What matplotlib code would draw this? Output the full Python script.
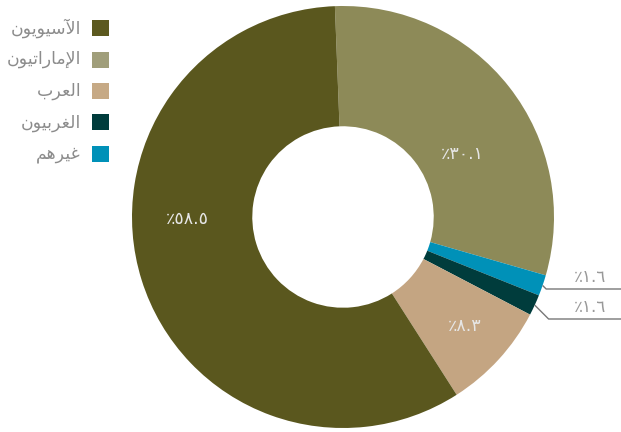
import matplotlib
matplotlib.use("Agg")
import numpy as np
import matplotlib.pyplot as plt
from matplotlib.patches import Rectangle

# Population share by group (percent)
categories = ["الآسيويون", "الإماراتيون", "العرب", "الغربيون", "غيرهم"]
shares = [58.5, 30.1, 8.3, 1.6, 1.6]
colors = ["#5a571e", "#8d8a58", "#c4a582", "#003c3c", "#0091b8"]
legend_colors = ["#5c591f", "#a09e7a", "#c6a985", "#003c3c", "#0091b8"]
# order of the wedges, clockwise from the top
pie_order = [1, 4, 3, 2, 0]

W, H = 621, 432
CX, CY, R = 343, 217, 211  # pixel centre and outer radius of the donut

# --- minimal Arabic shaping (matplotlib has no bidi / shaping) ---
FORMS = {  # isolated, final, initial, medial
    "ا": ("\ufe8d", "\ufe8e", None, None),
    "آ": ("\ufe81", "\ufe82", None, None),
    "إ": ("\ufe87", "\ufe88", None, None),
    "و": ("\ufeed", "\ufeee", None, None),
    "ر": ("\ufead", "\ufeae", None, None),
    "ل": ("\ufedd", "\ufede", "\ufedf", "\ufee0"),
    "س": ("\ufeb1", "\ufeb2", "\ufeb3", "\ufeb4"),
    "ي": ("\ufef1", "\ufef2", "\ufef3", "\ufef4"),
    "ن": ("\ufee5", "\ufee6", "\ufee7", "\ufee8"),
    "م": ("\ufee1", "\ufee2", "\ufee3", "\ufee4"),
    "ت": ("\ufe95", "\ufe96", "\ufe97", "\ufe98"),
    "ع": ("\ufec9", "\ufeca", "\ufecb", "\ufecc"),
    "ب": ("\ufe8f", "\ufe90", "\ufe91", "\ufe92"),
    "غ": ("\ufecd", "\ufece", "\ufecf", "\ufed0"),
    "ه": ("\ufee9", "\ufeea", "\ufeeb", "\ufeec"),
}
LAM_ALEF = {"ا": ("\ufefb", "\ufefc"), "آ": ("\ufef5", "\ufef6"), "إ": ("\ufef9", "\ufefa")}


def dual(ch):
    return ch in FORMS and FORMS[ch][2] is not None


def shape(word):
    out = []
    i = 0
    while i < len(word):
        ch = word[i]
        prev_joins = i > 0 and dual(word[i - 1])
        if ch == "ل" and i + 1 < len(word) and word[i + 1] in LAM_ALEF:
            out.append(LAM_ALEF[word[i + 1]][1 if prev_joins else 0])
            i += 2
            continue
        next_joins = dual(ch) and i + 1 < len(word)
        iso, fin, ini, med = FORMS[ch]
        if prev_joins and next_joins:
            out.append(med)
        elif prev_joins:
            out.append(fin)
        elif next_joins:
            out.append(ini)
        else:
            out.append(iso)
        i += 1
    return "".join(reversed(out))


def pct(v):
    return "٪" + f"{v:.1f}".translate(str.maketrans("0123456789", "٠١٢٣٤٥٦٧٨٩"))


def px(x, y):
    # pixel position (from top-left) -> data units of the pie axes
    return (x - CX) / R, (CY - y) / R


fig = plt.figure(figsize=(W / 100, H / 100), dpi=100)
ax = fig.add_axes([0, 0, 1, 1])

vals = [shares[i] for i in pie_order]
cols = [colors[i] for i in pie_order]
wedges, _ = ax.pie(vals, colors=cols, startangle=92.2, counterclock=False, radius=1,
                   wedgeprops=dict(width=0.57, linewidth=0))

x0, y0 = px(0, H)
x1, y1 = px(W, 0)
ax.set_xlim(x0, x1)
ax.set_ylim(y0, y1)
ax.set_aspect("auto")
ax.axis("off")

# labels inside the big wedges
inner_pos = {0: px(187, 219), 1: px(462, 154), 2: px(465, 326)}
for k, (lx, ly) in inner_pos.items():
    ax.text(lx, ly, pct(shares[k]), color="#e6e6e6", fontsize=12.5,
            ha="center", va="center", family="DejaVu Sans")

# small wedges: leader lines to the right edge (label rows kept apart)
line_rows = {4: 289, 3: 319}
for k, w in zip(pie_order, wedges):
    if k in inner_pos:
        continue
    mid = np.deg2rad((w.theta1 + w.theta2) / 2)
    sx, sy = np.cos(mid), np.sin(mid)
    ey = px(0, line_rows[k])[1]
    ex = sx + (sy - ey)
    ax.plot([sx, ex, x1], [sy, ey, ey], color="#777777", lw=1, solid_capstyle="butt")
    ax.text(px(590, 0)[0], ey + 3 / R, pct(shares[k]), color="#999999", fontsize=12,
            ha="center", va="bottom", family="DejaVu Sans")

# legend, drawn by hand (text right-aligned, swatch on the right)
for i, (name, c) in enumerate(zip(categories, legend_colors)):
    yc = 28 + 31.5 * i
    fig.patches.append(Rectangle((92 / W, 1 - (yc + 8) / H), 17 / W, 16 / H,
                                 transform=fig.transFigure, facecolor=c, edgecolor="none"))
    fig.text(81 / W, 1 - yc / H, shape(name), color="#8c8c8c", fontsize=12.5,
             ha="right", va="center", family="DejaVu Sans")

fig.savefig("out.png", dpi=100)
